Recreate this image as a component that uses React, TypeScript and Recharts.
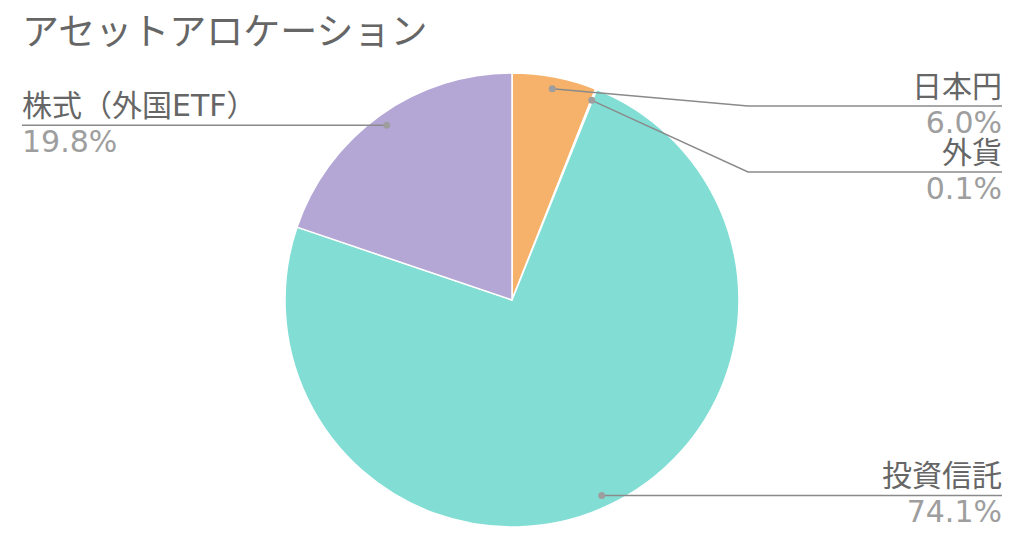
import React from "react";
import { PieChart, Pie, Cell } from "recharts";

// Asset allocation (percent of total)
const categories = ["日本円", "外貨", "投資信託", "株式（外国ETF）"];
const shares = [6.0, 0.1, 74.1, 19.8];
const colors = ["#F6B26B", "#76A5AF", "#82DED4", "#B4A7D6"];

const data = categories.map((name, i) => ({ name, value: shares[i] }));

const WIDTH = 1024;
const HEIGHT = 540;
const CX = 512;
const CY = 300;
const OUTER = 227;
const DOT_R = OUTER - 12;
const RADIAN = Math.PI / 180;
const LABEL_GAP = 66;
const RIGHT_EDGE = 1002;
const LEFT_EDGE = 22;

const NAME_COLOR = "#666666";
const PCT_COLOR = "#9E9E9E";
const LINE_COLOR = "#8A8A8A";
const FONT = "'DejaVu Sans', 'Noto Sans CJK JP', sans-serif";

// Mid angle of every slice in Recharts' convention (clockwise from 12 o'clock)
const total = shares.reduce((a, b) => a + b, 0);
const midAngles: number[] = [];
{
  let cum = 0;
  shares.forEach((v) => {
    midAngles.push(90 - (360 * (cum + v / 2)) / total);
    cum += v;
  });
}

// Stack labels on each side so that they never overlap
const labelY: number[] = new Array(shares.length).fill(0);
{
  const topMin = CY - OUTER + 33;
  const sides: Record<string, { i: number; y: number }[]> = { r: [], l: [] };
  midAngles.forEach((a, i) => {
    const x = Math.cos(-a * RADIAN);
    const y = CY + DOT_R * Math.sin(-a * RADIAN);
    sides[x >= 0 ? "r" : "l"].push({ i, y });
  });
  Object.values(sides).forEach((list) => {
    list.sort((p, q) => p.y - q.y);
    let prev = -Infinity;
    list.forEach(({ i, y }) => {
      const ly = Math.max(y, prev + LABEL_GAP, topMin);
      labelY[i] = ly;
      prev = ly;
    });
  });
}

const renderLabel = (props: any) => {
  const { cx, cy, midAngle, outerRadius, index, name, value } = props;
  const cos = Math.cos(-midAngle * RADIAN);
  const sin = Math.sin(-midAngle * RADIAN);
  const r = outerRadius - 12;
  const dx = cx + r * cos;
  const dy = cy + r * sin;
  const right = cos >= 0;
  const ly = labelY[index];
  const elbowX = right ? cx + outerRadius + 9 : cx - outerRadius - 9;
  const endX = right ? RIGHT_EDGE : LEFT_EDGE;
  const anchor = right ? "end" : "start";
  return (
    <g key={`lbl-${index}`}>
      <polyline
        points={`${dx},${dy} ${elbowX},${ly} ${endX},${ly}`}
        fill="none"
        stroke={LINE_COLOR}
        strokeWidth={1.5}
      />
      <circle cx={dx} cy={dy} r={3.5} fill="#9E9E9E" />
      <text
        x={endX}
        y={ly - 9}
        textAnchor={anchor}
        fontSize={30}
        fontFamily={FONT}
        fill={NAME_COLOR}
      >
        {name}
      </text>
      <text
        x={endX}
        y={ly + 27}
        textAnchor={anchor}
        fontSize={30}
        fontFamily={FONT}
        fill={PCT_COLOR}
      >
        {`${Number(value).toFixed(1)}%`}
      </text>
    </g>
  );
};

export default function App() {
  return (
    <div style={{ position: "absolute", left: 0, top: 0, width: WIDTH, height: HEIGHT, background: "#fff" }}>
      <PieChart width={WIDTH} height={HEIGHT} margin={{ top: 0, right: 0, bottom: 0, left: 0 }}>
        <text x={22} y={45} fontSize={37} fontFamily={FONT} fill="#666666">
          アセットアロケーション
        </text>
        <Pie
          data={data}
          dataKey="value"
          nameKey="name"
          cx={CX}
          cy={CY}
          outerRadius={OUTER}
          startAngle={90}
          endAngle={-270}
          stroke="#FFFFFF"
          strokeWidth={1.5}
          label={renderLabel}
          labelLine={false}
          isAnimationActive={false}
        >
          {data.map((d, i) => (
            <Cell key={d.name} fill={colors[i]} />
          ))}
        </Pie>
      </PieChart>
    </div>
  );
}
